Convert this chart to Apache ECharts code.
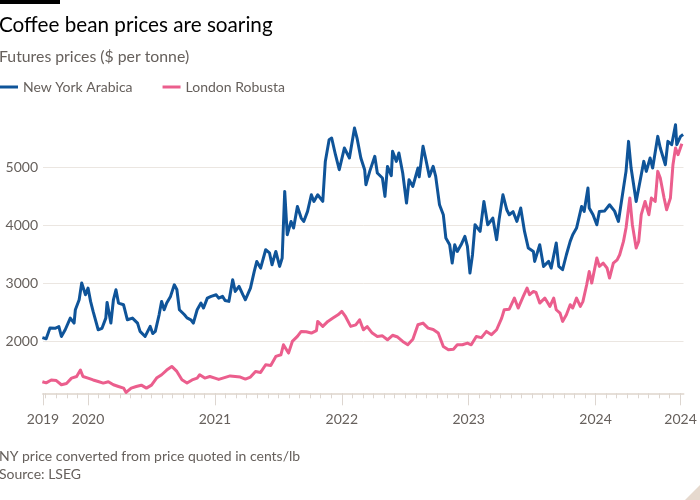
<!DOCTYPE html>
<html>
<head>
<meta charset="utf-8">
<script src="https://cdn.jsdelivr.net/npm/echarts@6/dist/echarts.min.js"></script>
<style>
html,body{margin:0;padding:0;background:#ffffff;}
#chart{width:700px;height:500px;}
</style>
</head>
<body>
<div id="chart"></div>
<script>
// ---- Data (decimal years, $ per tonne) ----
var arabicaTimes = [2019.64,2019.67,2019.70,2019.74,2019.77,2019.79,2019.82,2019.86,2019.89,2019.90,2019.93,2019.95,2019.98,2020.00,2020.02,2020.04,2020.08,2020.11,2020.14,2020.15,2020.18,2020.20,2020.22,2020.24,2020.28,2020.31,2020.35,2020.39,2020.41,2020.45,2020.49,2020.51,2020.53,2020.56,2020.58,2020.60,2020.62,2020.65,2020.68,2020.70,2020.72,2020.76,2020.78,2020.81,2020.83,2020.86,2020.89,2020.91,2020.94,2020.97,2021.01,2021.03,2021.06,2021.08,2021.11,2021.14,2021.16,2021.19,2021.22,2021.24,2021.28,2021.31,2021.33,2021.36,2021.40,2021.43,2021.45,2021.48,2021.51,2021.53,2021.55,2021.57,2021.60,2021.62,2021.65,2021.68,2021.70,2021.73,2021.76,2021.78,2021.81,2021.85,2021.87,2021.90,2021.92,2021.95,2021.98,2022.02,2022.03,2022.06,2022.10,2022.12,2022.15,2022.18,2022.19,2022.22,2022.26,2022.28,2022.32,2022.34,2022.36,2022.39,2022.40,2022.43,2022.45,2022.48,2022.51,2022.53,2022.56,2022.60,2022.61,2022.64,2022.66,2022.69,2022.72,2022.74,2022.77,2022.80,2022.82,2022.85,2022.87,2022.89,2022.91,2022.94,2022.97,2022.99,2023.01,2023.03,2023.05,2023.06,2023.09,2023.12,2023.15,2023.17,2023.19,2023.22,2023.24,2023.27,2023.30,2023.32,2023.35,2023.38,2023.41,2023.44,2023.47,2023.51,2023.52,2023.56,2023.59,2023.63,2023.65,2023.69,2023.71,2023.74,2023.77,2023.80,2023.82,2023.85,2023.89,2023.91,2023.94,2023.95,2023.98,2024.01,2024.03,2024.07,2024.11,2024.15,2024.18,2024.22,2024.24,2024.26,2024.28,2024.32,2024.35,2024.38,2024.40,2024.43,2024.45,2024.49,2024.51,2024.55,2024.57,2024.60,2024.63,2024.64,2024.67,2024.69];
var arabicaPrices = [2060,2040,2224,2220,2250,2080,2195,2396,2310,2540,2712,3000,2798,2914,2684,2511,2195,2220,2396,2667,2310,2712,2884,2655,2626,2367,2396,2310,2167,2080,2253,2130,2167,2453,2684,2540,2655,2770,2970,2890,2540,2453,2400,2367,2310,2540,2655,2570,2741,2770,2798,2740,2770,2700,2684,3057,2856,2942,2800,2712,2914,3200,3373,3258,3574,3520,3315,3545,3287,3431,4580,3833,4062,3948,4321,4120,4062,4235,4522,4407,4522,4407,5097,5471,5500,5212,4953,5327,5356,5155,5672,5500,5155,4953,4695,4925,5184,4896,4810,4494,5011,4850,5270,5097,5241,4896,4379,4781,4666,4982,4830,5356,5155,4839,5011,4839,4350,4178,3776,3660,3345,3660,3545,3660,3805,3632,3172,3488,4005,4005,3890,4407,4005,4060,4120,3747,4100,4522,4264,4178,4230,4062,4293,3890,3603,3545,3373,3660,3287,3373,3258,3690,3287,3230,3488,3718,3833,3948,4321,4235,4638,4293,4178,4005,4235,4240,4350,4240,4062,4638,4925,5442,4982,4407,4752,5097,4925,5155,4982,5528,5327,5040,5442,5385,5730,5385,5528,5560];

var robustaTimes = [2019.64,2019.67,2019.71,2019.75,2019.79,2019.83,2019.87,2019.91,2019.94,2019.96,2020.00,2020.04,2020.08,2020.12,2020.16,2020.20,2020.24,2020.28,2020.30,2020.34,2020.38,2020.42,2020.46,2020.50,2020.54,2020.58,2020.62,2020.66,2020.70,2020.74,2020.78,2020.82,2020.86,2020.88,2020.92,2020.96,2021.00,2021.03,2021.12,2021.16,2021.20,2021.24,2021.28,2021.32,2021.36,2021.40,2021.44,2021.48,2021.52,2021.54,2021.58,2021.61,2021.65,2021.68,2021.72,2021.76,2021.80,2021.81,2021.85,2021.89,2021.93,2021.97,2022.00,2022.03,2022.07,2022.11,2022.14,2022.17,2022.20,2022.24,2022.28,2022.32,2022.36,2022.40,2022.44,2022.48,2022.52,2022.56,2022.60,2022.64,2022.68,2022.72,2022.76,2022.80,2022.84,2022.88,2022.91,2022.95,2022.99,2023.02,2023.06,2023.10,2023.14,2023.18,2023.22,2023.26,2023.28,2023.32,2023.36,2023.39,2023.43,2023.46,2023.48,2023.51,2023.53,2023.56,2023.60,2023.64,2023.67,2023.69,2023.72,2023.74,2023.77,2023.80,2023.82,2023.85,2023.88,2023.90,2023.93,2023.95,2023.97,2023.98,2024.01,2024.03,2024.06,2024.09,2024.11,2024.14,2024.17,2024.19,2024.22,2024.24,2024.27,2024.29,2024.32,2024.34,2024.36,2024.39,2024.42,2024.44,2024.47,2024.49,2024.51,2024.54,2024.56,2024.59,2024.61,2024.63,2024.65,2024.68];
var robustaPrices = [1300,1280,1330,1320,1247,1270,1362,1390,1500,1390,1362,1330,1304,1276,1300,1247,1218,1190,1114,1190,1218,1240,1190,1240,1362,1420,1500,1563,1477,1333,1276,1330,1362,1420,1362,1390,1362,1340,1400,1391,1380,1345,1380,1477,1460,1592,1580,1736,1764,1936,1793,1994,2080,2167,2160,2138,2180,2339,2253,2339,2396,2453,2511,2420,2253,2280,2367,2195,2250,2138,2080,2090,2022,2100,2070,1994,1936,2030,2281,2310,2224,2200,2138,1907,1850,1860,1936,1936,1965,1936,2080,2060,2167,2110,2195,2396,2540,2550,2741,2569,2770,2914,2800,2856,2840,2655,2741,2598,2741,2540,2482,2339,2453,2626,2570,2741,2598,2680,2971,3200,3000,3028,3431,3287,3345,3260,3086,3345,3400,3488,3718,3948,4466,4005,3603,3718,4178,4407,4178,4466,4407,4925,4810,4466,4264,4466,5040,5327,5212,5400];

// ---- Axes ----
var xStart = 2019.645, xEnd = 2024.693;
var xLabelValues = [2019.645, 2020, 2021, 2022, 2023, 2024, 2024.67];
var xLabelTexts = ['2019', '2020', '2021', '2022', '2023', '2024', '2024'];
var yMin = 1100, yMax = 5900;
var yTickValues = [2000, 3000, 4000, 5000];
var yTickTexts = ['2000', '3000', '4000', '5000'];

var seriesNames = ['New York Arabica', 'London Robusta'];
var seriesColors = ['#0f5499', '#eb5e8d'];

// monthly minor ticks
var monthTicks = [];
for (var y = 2019; y <= 2024; y++) {
  for (var m = 0; m < 12; m++) {
    var v = y + m / 12;
    if (v > xStart + 0.005 && v < xEnd - 0.005) monthTicks.push(v);
  }
}

function zip(a, b) { return a.map(function (t, i) { return [t, b[i]]; }); }

var FONT = 'Lato';
var GREY = '#66605c';

var chart = echarts.init(document.getElementById('chart'), null, { renderer: 'canvas' });
chart.setOption({
  animation: false,
  backgroundColor: '#ffffff',
  title: [
    { text: 'Coffee bean prices are soaring', left: -1, top: 15, padding: 0,
      textStyle: { fontFamily: FONT, fontSize: 20.7, fontWeight: 'normal', color: '#000000' } },
    { text: 'Futures prices ($ per tonne)', left: -1, top: 49, padding: 0,
      textStyle: { fontFamily: FONT, fontSize: 15.8, fontWeight: 'normal', color: GREY } },
    { text: 'NY price converted from price quoted in cents/lb', left: -1, top: 449, padding: 0,
      textStyle: { fontFamily: FONT, fontSize: 14, fontWeight: 'normal', color: GREY } },
    { text: 'Source: LSEG', left: -1, top: 467, padding: 0,
      textStyle: { fontFamily: FONT, fontSize: 14, fontWeight: 'normal', color: GREY } }
  ],
  graphic: [
    { type: 'rect', left: 0, top: 0, shape: { width: 60, height: 4 }, style: { fill: '#000000' } },
    { type: 'polygon', shape: { points: [[700, 485], [700, 500], [685, 500]] }, style: { fill: '#e6d9ce' } }
  ],
  legend: {
    left: 0, top: 80, padding: 0, itemWidth: 18, itemHeight: 3, itemGap: 30,
    icon: 'rect',
    textStyle: { fontFamily: FONT, fontSize: 14, color: GREY },
    data: seriesNames
  },
  grid: { left: 43, right: 16.5, top: 114.8, bottom: 106.7, containLabel: false },
  xAxis: [
    {
      type: 'value', min: xStart, max: xEnd,
      axisLine: { show: true, lineStyle: { color: '#e6dfd8', width: 2 } },
      axisTick: { show: true, customValues: monthTicks, length: 5, lineStyle: { color: '#ddd6d0', width: 1 } },
      axisLabel: {
        show: true, customValues: xLabelValues, margin: 19,
        fontFamily: FONT, fontSize: 14, color: GREY,
        formatter: function (v) {
          for (var i = 0; i < xLabelValues.length; i++) {
            if (Math.abs(xLabelValues[i] - v) < 1e-6) return xLabelTexts[i];
          }
          return '';
        }
      },
      splitLine: { show: false }
    },
    {
      type: 'value', min: xStart, max: xEnd, position: 'bottom',
      axisLine: { show: false },
      axisTick: { show: true, customValues: xLabelValues, length: 12, lineStyle: { color: '#ddd6d0', width: 1 } },
      axisLabel: { show: false },
      splitLine: { show: false }
    }
  ],
  yAxis: {
    type: 'value', min: yMin, max: yMax,
    axisLine: { show: false },
    axisTick: { show: false, customValues: yTickValues },
    axisLabel: {
      customValues: yTickValues, margin: 5,
      fontFamily: FONT, fontSize: 14, color: GREY,
      formatter: function (v) {
        var i = yTickValues.indexOf(v);
        return i >= 0 ? yTickTexts[i] : '';
      }
    },
    splitLine: { show: true, lineStyle: { color: '#ebe6e1', width: 1 } }
  },
  series: [
    { name: seriesNames[0], type: 'line', xAxisIndex: 0, data: zip(arabicaTimes, arabicaPrices),
      showSymbol: false, symbol: 'none', lineStyle: { width: 3, color: seriesColors[0], join: 'round' },
      itemStyle: { color: seriesColors[0] }, z: 3 },
    { name: seriesNames[1], type: 'line', xAxisIndex: 0, data: zip(robustaTimes, robustaPrices),
      showSymbol: false, symbol: 'none', lineStyle: { width: 3, color: seriesColors[1], join: 'round' },
      itemStyle: { color: seriesColors[1] }, z: 2 }
  ]
});
</script>
</body>
</html>
